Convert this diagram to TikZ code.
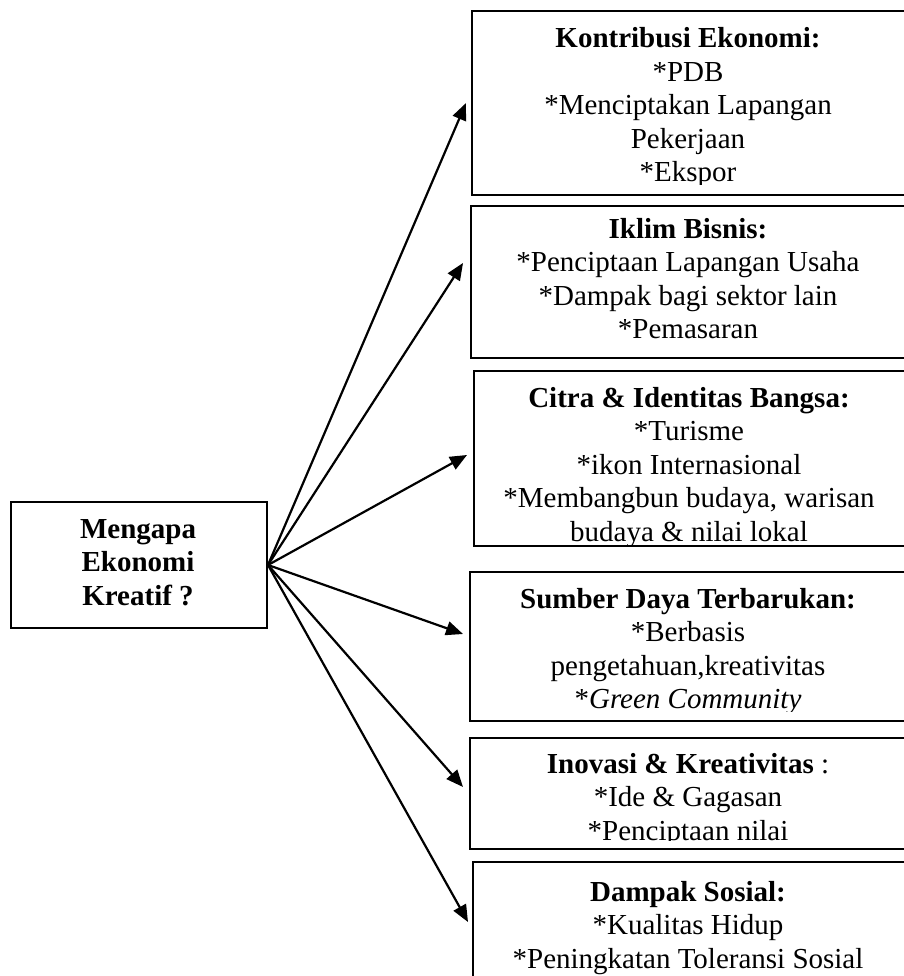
\documentclass[tikz,border=0pt]{standalone}
\usepackage{fontspec}
\setmainfont{Liberation Serif}
\usetikzlibrary{arrows.meta}
\begin{document}
\begin{tikzpicture}[x=1pt,y=-1pt,
  box/.style={draw, line width=2pt, inner sep=0pt, anchor=north west},
  txt/.style={align=center, inner sep=0pt, anchor=base, font=\fontsize{29}{33.5}\selectfont},
  arr/.style={line width=2.2pt, -{Triangle[length=17pt,width=14pt]}}]
\useasboundingbox (0,0) rectangle (903,976);
% left box
\node[box, minimum width=256pt, minimum height=126pt] (L) at (10,501) {};
\node[txt] (Lt) at (138,605) {\textbf{Mengapa}\\\textbf{Ekonomi}\\\textbf{Kreatif ?}};
% right boxes
\node[box, minimum width=434pt, minimum height=184pt] (b1) at (471,10) {};
\node[box, minimum width=435pt, minimum height=152pt] (b2) at (470,205) {};
\node[box, minimum width=432pt, minimum height=175pt] (b3) at (473,370) {};
\node[box, minimum width=436pt, minimum height=149pt] (b4) at (469,571) {};
\node[box, minimum width=436pt, minimum height=111pt] (b5) at (469,737) {};
\node[box, minimum width=433pt, minimum height=140pt] (b6) at (472,861) {};
\begin{scope}
\clip (472,11) rectangle (903,185);
\node[txt] (t1) at (688,182) {\textbf{Kontribusi Ekonomi:}\\*PDB\\*Menciptakan Lapangan\\Pekerjaan\\*Ekspor};
\end{scope}
\begin{scope}
\clip (471,206) rectangle (903,348);
\node[txt] (t2) at (688,338.5) {\textbf{Iklim Bisnis:}\\*Penciptaan Lapangan Usaha\\*Dampak bagi sektor lain\\*Pemasaran};
\end{scope}
\begin{scope}
\clip (474,371) rectangle (903,545);
\node[txt] (t3) at (689,541) {\textbf{Citra \& Identitas Bangsa:}\\*Turisme\\*ikon Internasional\\*Membangbun budaya, warisan\\budaya \& nilai lokal};
\end{scope}
\begin{scope}
\clip (470,572) rectangle (903,711);
\node[txt] (t4) at (688,708.5) {\textbf{Sumber Daya Terbarukan:}\\*Berbasis\\pengetahuan,kreativitas\\*\textit{Green Community}};
\end{scope}
\begin{scope}
\clip (470,738) rectangle (903,840);
\node[txt] (t5) at (688,840) {\textbf{Inovasi \& Kreativitas} :\\*Ide \& Gagasan\\*Penciptaan nilai};
\end{scope}
\begin{scope}
\clip (473,862) rectangle (903,976);
\node[txt] (t6) at (688,968) {\textbf{Dampak Sosial:}\\*Kualitas Hidup\\*Peningkatan Toleransi Sosial};
\end{scope}
% arrow tips
\coordinate (a1) at (466,103);
\coordinate (a2) at (463,263);
\coordinate (a3) at (467,455);
\coordinate (a4) at (463,634);
\coordinate (a5) at (463,787);
\coordinate (a6) at (468,922);
\foreach \i in {1,...,6} {\draw[arr] (L.east) -- (a\i);}
\end{tikzpicture}
\end{document}
